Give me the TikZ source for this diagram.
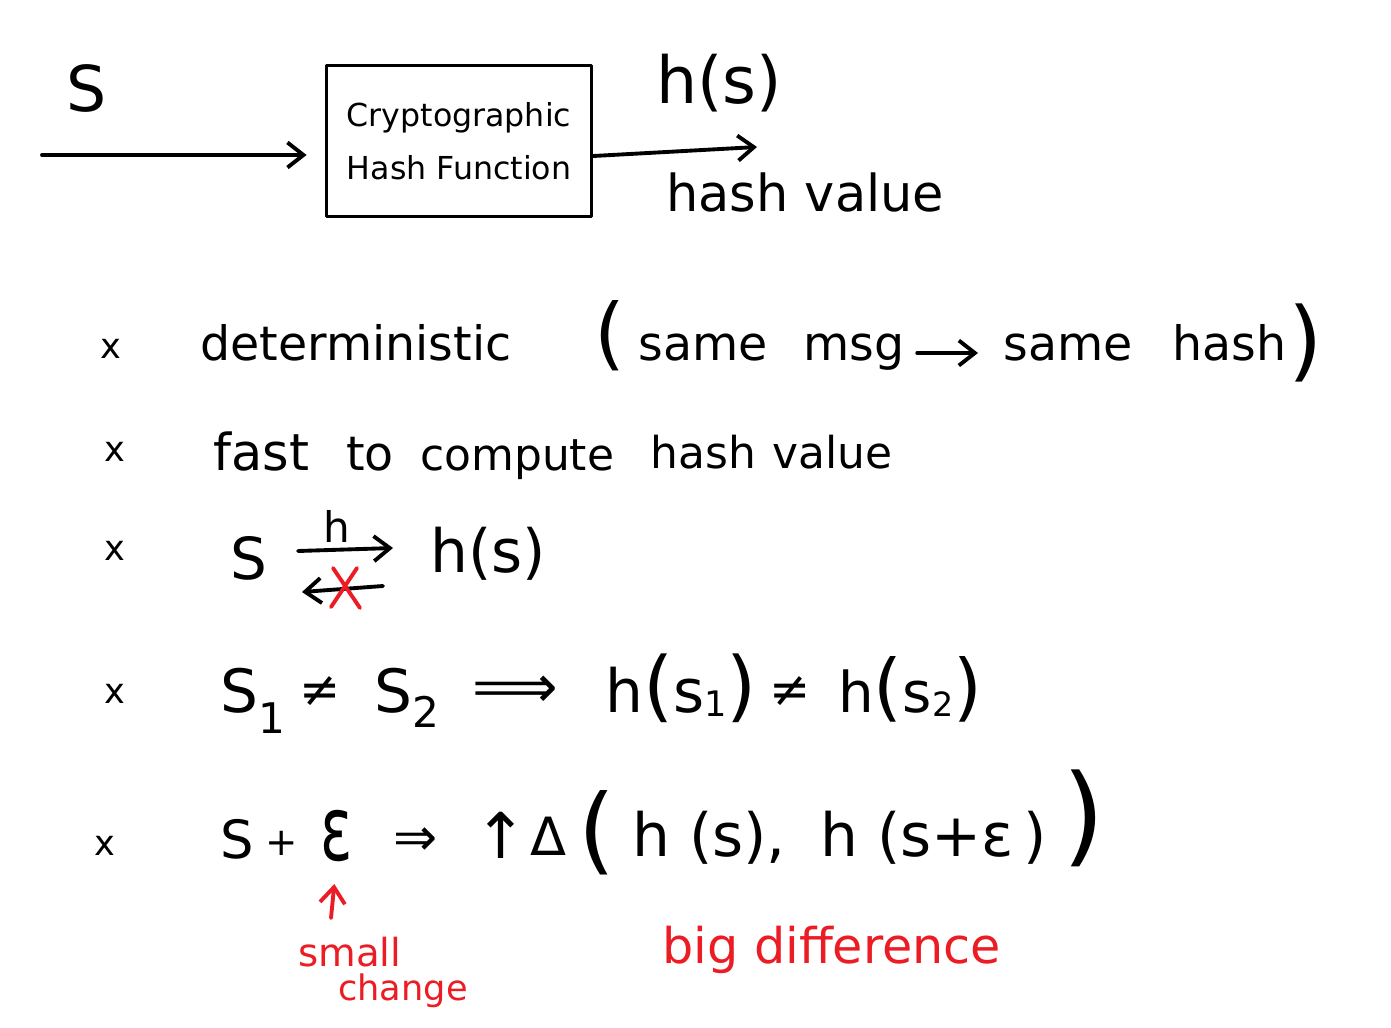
\documentclass[tikz,border=0pt]{standalone}
\usepackage{fontspec}
\setmainfont{DejaVu Sans}
\usetikzlibrary{arrows.meta}
\definecolor{redink}{RGB}{236,28,36}
\newcommand\hsz[1]{\fontsize{#1}{#1}\selectfont}
\begin{document}
\begin{tikzpicture}[x=0.02cm,y=-0.02cm,
  t/.style={inner sep=0pt, anchor=base west},
  ink/.style={line width=2.2pt, line cap=round, line join=round},
  arr/.style={ink, -{Straight Barb[length=0.32cm,width=0.5cm,line width=2.2pt]}},
  redarr/.style={arr, draw=redink},
  rt/.style={t, text=redink}]
\fill[white] (0,0) rectangle (1391,1027);
\useasboundingbox (0,0) rectangle (1391,1027);

% top diagram
\node[t, font=\hsz{36}] (sIn) at (66,112) {S};
\node[draw, ink, minimum width=5.3cm, minimum height=3.02cm, inner sep=0pt, align=center, font=\hsz{18}] (box) at (459,141) {Cryptographic\\[12pt]Hash Function};
\coordinate (in) at (42,155);
\draw[arr, shorten >=0.36cm] (in) -- (in -| box.west);
\coordinate (out) at (757,147);
\draw[arr] ([yshift=-0.3cm]box.east) -- (out);
\node[t, font=\hsz{37}] (hsTop) at (656,104) {h(s)};
\node[t, font=\hsz{29}] (hv) at (666,212) {hash value};

% bullets
\foreach \n/\x/\y in {1/100/358, 2/104/461, 3/104/560, 4/104/703, 5/94/855}
  \node[t, font=\hsz{20}] (b\n) at (\x,\y) {x};

% line 1
\node[t, font=\hsz{27}] (det) at (200,360) {deterministic};
\node[t, font=\hsz{45}] (lp1) at (594,360) {(};
\node[t, font=\hsz{27}] (same1) at (638,360) {same};
\node[t, font=\hsz{27}] (msg) at (803,360) {msg};
\node[t, font=\hsz{27}] (same2) at (1003,360) {same};
\node[t, font=\hsz{27}] (hash1) at (1172,360) {hash};
\node[t, font=\hsz{50}] (rp1) at (1288,370) {)};
\draw[arr] ([shift={(0.25cm,0.14cm)}]msg.base east) -- ([shift={(-0.5cm,0.14cm)}]same2.base west);

% line 2
\node[t, font=\hsz{29}] (fast) at (213,470) {fast};
\node[t, font=\hsz{27}] (to) at (346,470) {to};
\node[t, font=\hsz{25}] (compute) at (420,470) {compute};
\node[t, font=\hsz{25}] (hash2) at (650,468) {hash};
\node[t, font=\hsz{25}] (value2) at (772,468) {value};

% line 3
\node[t, font=\hsz{33}] (S3) at (230,579) {S};
\node[t, font=\hsz{34}] (hs3) at (430,572) {h(s)};
\coordinate (f1) at (298,551);
\coordinate (f2) at (393,548);
\draw[arr] (f1) -- (f2);
\node[font=\hsz{24}, inner sep=0pt] (hlab) at (337,526) {h};
\coordinate (g1) at (383,586);
\coordinate (g2) at (302,592);
\draw[arr] (g1) -- (g2);
\draw[ink, draw=redink] (333,568) -- (360,608) (357,568) -- (331,607);

% line 4
\node[t, font=\hsz{34}] (s1) at (220,712) {S\raisebox{-0.42cm}{\hsz{24}1}};
\node[font=\hsz{28}, inner sep=0pt] (ne1) at (320,692) {≠};
\node[t, font=\hsz{34}] (s2) at (374,712) {S\raisebox{-0.3cm}{\hsz{24}2}};
\node[font=\hsz{34}, inner sep=0pt] (impl) at (515,692) {⟹};
\node[t, font=\hsz{34}] (h1) at (605,712) {h{\hsz{44}(}s\raisebox{-0.08cm}{\hsz{20}1}{\hsz{44})}};
\node[font=\hsz{28}, inner sep=0pt] (ne2) at (790,692) {≠};
\node[t, font=\hsz{32}] (h2) at (838,712) {h{\hsz{42}(}s\raisebox{-0.08cm}{\hsz{19}2}{\hsz{42})}};

% line 5
\node[t, font=\hsz{30}] (S5) at (220,858) {S};
\node[font=\hsz{22}, inner sep=0pt] (pl5) at (282,843) {+};
\node[t, font=\hsz{34}] (eps) at (320,860) {\scalebox{1}[1.5]{ε}};
\node[font=\hsz{30}, inner sep=0pt] (imp5) at (416,842) {⇒};
\node[t, font=\hsz{36}] (up) at (474,858) {↑};
\node[t, font=\hsz{30}] (delta) at (530,855) {Δ};
\node[t, font=\hsz{54}] (lp5) at (578,862) {(};
\node[t, font=\hsz{34}] (hs5) at (632,856) {h (s),};
\node[t, font=\hsz{34}] (hse) at (820,856) {h (s+ε\,)};
\node[t, font=\hsz{62}] (rp5) at (1062,852) {)};

% red annotations
\coordinate (sc) at (331,918);
\draw[redarr, shorten >=0.45cm] (sc) -- (eps.south);
\node[rt, font=\hsz{22}] (small) at (298,966) {small};
\node[rt, font=\hsz{20}] (change) at (338,1000) {change};
\node[rt, font=\hsz{28}] (big) at (662,963) {big difference};
\end{tikzpicture}
\end{document}
